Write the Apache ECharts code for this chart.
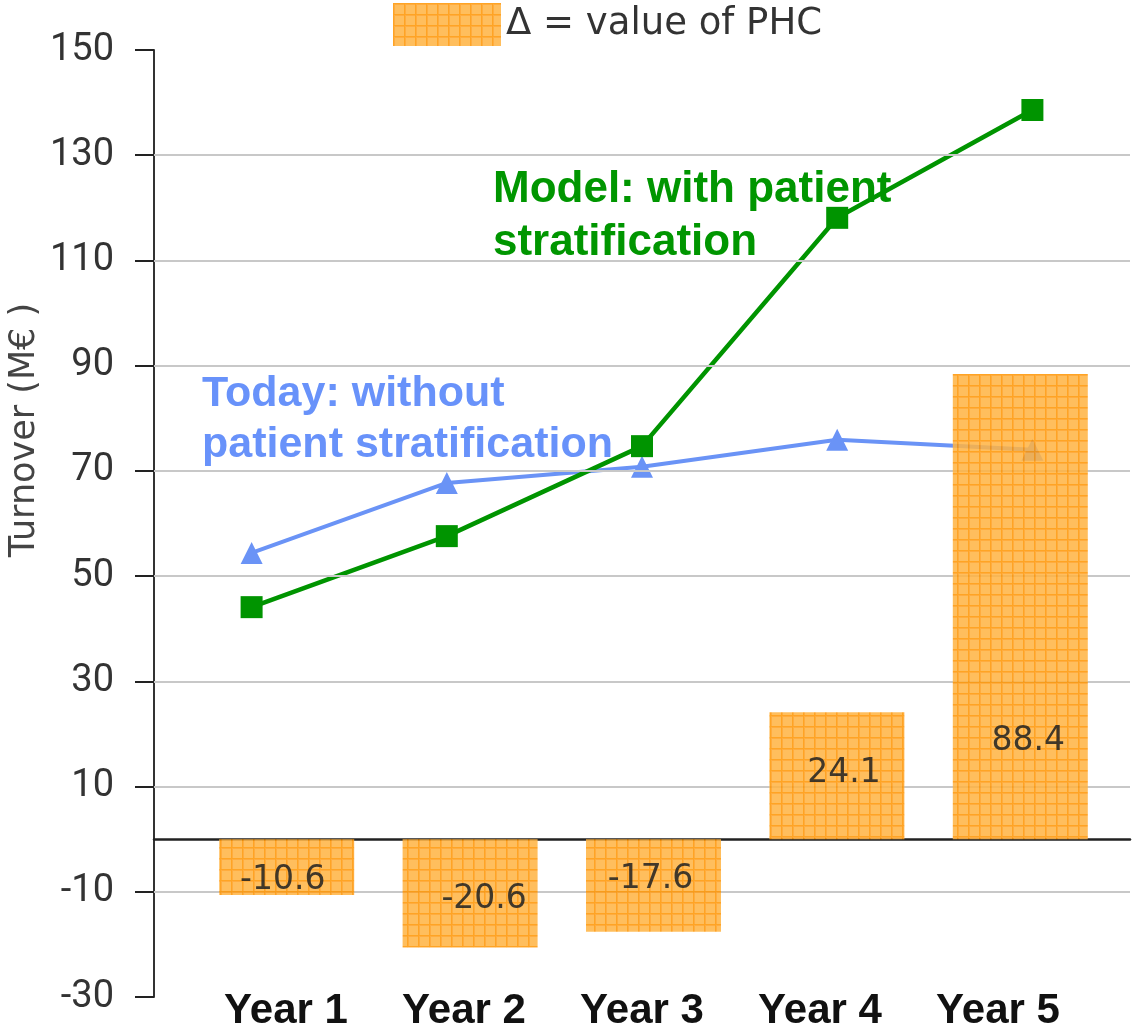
<!DOCTYPE html>
<html><head><meta charset="utf-8">
<script src="https://cdn.jsdelivr.net/npm/echarts@6/dist/echarts.min.js"></script>
<style>html,body{margin:0;padding:0;background:#fff}#c{width:1138px;height:1034px}</style>
</head><body><div id="c"></div>
<script>
const categories = ['Year 1', 'Year 2', 'Year 3', 'Year 4', 'Year 5'];
const modelValues = [44.1, 57.6, 74.7, 118.1, 138.6];
const todayValues = [54.4, 67.7, 70.8, 75.9, 74.0];
const deltaValues = [-10.6, -20.6, -17.6, 24.1, 88.4];
const yTickValues = [-30, -10, 10, 30, 50, 70, 90, 110, 130, 150];
const gridLineValues = [-10, 10, 30, 50, 70, 90, 110, 130];
const legendLabel = 'Δ = value of PHC';
const yTitle = 'Turnover (M€ )';
const modelText = 'Model: with patient\nstratification';
const todayText = 'Today: without\npatient stratification';

function makePattern() {
  const c = document.createElement('canvas');
  c.width = 11; c.height = 11;
  const g = c.getContext('2d');
  g.fillStyle = '#FFB443'; g.fillRect(0, 0, 11, 11);
  g.fillStyle = '#FF9F20'; g.fillRect(0, 0, 11, 2); g.fillRect(0, 0, 2, 11);
  g.fillStyle = '#FF9500'; g.fillRect(0, 0, 11, 1); g.fillRect(0, 0, 1, 11);
  return c;
}
const pattern = { image: makePattern(), repeat: 'repeat' };

const labelOffsets = [[-4, 13], [14, 6], [-3, -6], [7, -2], [8, 135]];

const chart = echarts.init(document.getElementById('c'), null, { renderer: 'canvas' });
const yCommon = { type: 'value', min: -30, max: 150 };

chart.setOption({
  animation: false,
  backgroundColor: '#fff',
  legend: {
    left: 388, top: -2,
    itemWidth: 108, itemHeight: 43,
    data: [{ name: legendLabel, icon: 'rect' }],
    textStyle: { fontFamily: 'DejaVu Sans', fontSize: 37, color: '#333', padding: [4, 0, 0, 0] }
  },
  grid: [
    { left: 154, right: 8, top: 50, bottom: 37 },
    { left: 195, right: 26, top: 50, bottom: 37 },
    { left: 197, right: 51, top: 50, bottom: 74 }
  ],
  xAxis: [
    { type: 'category', gridIndex: 0, data: categories, boundaryGap: true,
      axisLine: { onZero: true, lineStyle: { color: '#222', width: 2.5 } },
      axisTick: { show: false }, axisLabel: { show: false }, splitLine: { show: false } },
    { type: 'category', gridIndex: 1, data: categories, show: false },
    { type: 'category', gridIndex: 2, data: categories,
      axisLine: { show: false }, axisTick: { show: false },
      axisLabel: { margin: 30, fontFamily: 'Liberation Sans', fontWeight: 'bold', fontSize: 42, color: '#111' } }
  ],
  yAxis: [
    Object.assign({}, yCommon, {
      gridIndex: 0,
      axisLine: { show: true, lineStyle: { color: '#333', width: 2 } },
      axisTick: { show: true, inside: false, length: 19, customValues: yTickValues, lineStyle: { color: '#222', width: 2 } },
      axisLabel: { customValues: yTickValues, margin: 40, fontFamily: 'Roboto', fontSize: 38, color: '#333' },
      splitLine: { show: false }
    }),
    Object.assign({}, yCommon, { gridIndex: 1, show: false, splitLine: { show: false } }),
    Object.assign({}, yCommon, { gridIndex: 2, show: false, splitLine: { show: false } })
  ],
  graphic: [
    { type: 'text', x: 25, y: 430, rotation: Math.PI / 2, z: 0,
      style: { text: yTitle, font: '35px "DejaVu Sans"', fill: '#444', align: 'center', verticalAlign: 'middle' } },
    { type: 'text', left: 493, top: 163, z: 0,
      style: { text: modelText, font: 'bold 44px "Liberation Sans"', fill: '#009600', lineHeight: 53 } },
    { type: 'text', left: 202, top: 369, z: 0,
      style: { text: todayText, font: 'bold 43px "Liberation Sans"', fill: '#6892FA', lineHeight: 51 } }
  ],
  series: [
    { type: 'line', name: 'grid', xAxisIndex: 0, yAxisIndex: 0, data: [], z: 1, silent: true,
      markLine: { silent: true, symbol: 'none', label: { show: false },
        lineStyle: { color: '#c8c8c8', width: 2, type: 'solid' },
        data: gridLineValues.map(v => ({ yAxis: v })) } },
    { type: 'line', name: 'Today', xAxisIndex: 0, yAxisIndex: 0, data: todayValues, z: 3,
      symbol: 'triangle', symbolSize: 22,
      lineStyle: { color: '#6A93F6', width: 4 }, itemStyle: { color: '#6A93F6' } },
    { type: 'line', name: 'Model', xAxisIndex: 0, yAxisIndex: 0, data: modelValues, z: 4,
      symbol: 'rect', symbolSize: 22,
      lineStyle: { color: '#009400', width: 4.5 }, itemStyle: { color: '#009400' } },
    { type: 'bar', name: legendLabel, xAxisIndex: 1, yAxisIndex: 1, barWidth: 135, z: 6,
      data: deltaValues.map((v, i) => ({ value: v, label: { offset: labelOffsets[i] } })),
      itemStyle: { color: pattern, opacity: 0.86 },
      label: { show: true, position: 'inside', fontFamily: 'DejaVu Sans', fontSize: 33, color: '#222',
        formatter: p => p.value.toFixed(1) } }
  ]
});
</script>
</body></html>
